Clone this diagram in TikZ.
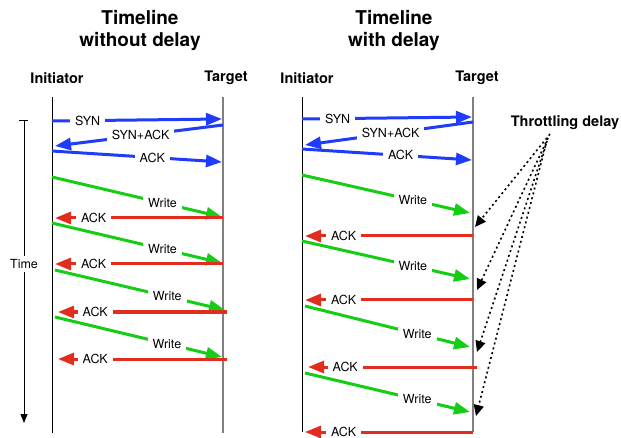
\documentclass[tikz,border=0pt]{standalone}
\usepackage{fontspec}
\setmainfont{TeX Gyre Heros}
\usetikzlibrary{arrows.meta}
\definecolor{tblue}{RGB}{30,60,250}
\definecolor{tgreen}{RGB}{20,205,20}
\definecolor{tred}{RGB}{225,45,30}
\tikzset{
  msgline/.style={line width=3pt},
  headtip/.tip={Triangle[length=16pt,width=12pt]},
  fwdblue/.style={msgline, draw=tblue, -headtip},
  bckblue/.style={msgline, draw=tblue, headtip-},
  wrmsg/.style={msgline, draw=tgreen, -headtip},
  ackmsg/.style={msgline, draw=tred, headtip-},
  lbl/.style={fill=white, inner xsep=5pt, inner ysep=1.5pt, font=\fontsize{12.5}{14}\selectfont},
  title/.style={align=center, font=\bfseries\fontsize{19}{22}\selectfont},
  party/.style={font=\bfseries\fontsize{14.5}{16}\selectfont},
  lifeline/.style={line width=0.8pt, draw=black},
  tgtline/.style={line width=1.2pt, draw=gray},
  delayarrow/.style={line width=1.6pt, dash pattern=on 2pt off 3pt, -{Triangle[length=11pt,width=10pt]}}
}
\begin{document}
\begin{tikzpicture}[x=1pt,y=-1pt]
  \useasboundingbox (0,0) rectangle (621,438);
  % titles and parties
  \node[title] (ttlA) at (140,31) {Timeline\\without delay};
  \node[title] (ttlB) at (394,31) {Timeline\\with delay};
  \node[party] (iniA) at (57,78) {Initiator};
  \node[party] (tgtA) at (226,78) {Target};
  \node[party] (iniB) at (307,78) {Initiator};
  \node[party] (tgtB) at (477,78) {Target};
  % lifelines
  \coordinate (iA0) at (52,97);  \coordinate (iA1) at (52,433);
  \coordinate (tA0) at (223,97); \coordinate (tA1) at (223,433);
  \coordinate (iB0) at (302,97); \coordinate (iB1) at (302,432);
  \coordinate (tB0) at (473,97); \coordinate (tB1) at (473,432);
  \draw[lifeline] (iA0) -- (iA1);
  \draw[tgtline] (tA0) -- (tA1);
  \draw[lifeline] (iB0) -- (iB1);
  \draw[tgtline] (tB0) -- (tB1);
  % time axis
  \coordinate (time0) at (24,120);
  \coordinate (time1) at (24,423);
  \draw[line width=0.8pt] ([xshift=-5pt]time0) -- ([xshift=4pt]time0);
  \draw[line width=0.8pt, -{Triangle[length=9pt,width=7pt]}] (time0) -- node[lbl, pos=.475, inner sep=3pt, font=\fontsize{12.5}{14}\selectfont] {Time} (time1);
  % messages without delay
  \foreach \k/\xa/\ya/\xb/\yb/\p/\t/\s in {
      1/52/121/222/119/.21/SYN/fwdblue,
      2/55/146/223/125/.51/SYN+ACK/bckblue,
      3/52/151/222/162/.59/ACK/fwdblue,
      4/52/177/222/217/.65/Write/wrmsg,
      5/55/218/223/218/.23/ACK/ackmsg,
      6/52/223/222/263/.65/Write/wrmsg,
      7/55/264/223/264/.23/ACK/ackmsg,
      8/55/270/225/310/.66/Write/wrmsg,
      9/58/312/227/312/.22/ACK/ackmsg,
      10/55/317/222/357/.67/Write/wrmsg,
      11/58/359/227/359/.22/ACK/ackmsg}{
    \coordinate (a\k) at (\xa,\ya);
    \coordinate (b\k) at (\xb,\yb);
    \draw[\s] (a\k) -- node[lbl, pos=\p] {\t} (b\k);
  }
  % messages with delay
  \foreach \k/\xa/\ya/\xb/\yb/\p/\t/\s in {
      1/302/119/472/117/.21/SYN/fwdblue,
      2/305/145/473/122/.51/SYN+ACK/bckblue,
      3/302/149/472/160/.58/ACK/fwdblue,
      4/302/175/470/213/.66/Write/wrmsg,
      5/305/236/473/236/.23/ACK/ackmsg,
      6/302/241/470/279/.66/Write/wrmsg,
      7/305/300/473/300/.23/ACK/ackmsg,
      8/305/306/470/347/.68/Write/wrmsg,
      9/308/367/477/367/.22/ACK/ackmsg,
      10/305/373/470/412/.68/Write/wrmsg,
      11/305/432/473/432/.23/ACK/ackmsg}{
    \coordinate (c\k) at (\xa,\ya);
    \coordinate (d\k) at (\xb,\yb);
    \draw[\s] (c\k) -- node[lbl, pos=\p] {\t} (d\k);
  }
  % throttling delay
  \node[party] (thr) at (565,123) {Throttling delay};
  \coordinate (dl1) at (550,134); \coordinate (dh1) at (475,227);
  \coordinate (dl2) at (548,138); \coordinate (dh2) at (477,290);
  \coordinate (dl3) at (547,141); \coordinate (dh3) at (477,352);
  \coordinate (dl4) at (546,144); \coordinate (dh4) at (476,416);
  \foreach \i in {1,...,4}
    \draw[delayarrow] (dl\i) -- (dh\i);
\end{tikzpicture}
\end{document}
